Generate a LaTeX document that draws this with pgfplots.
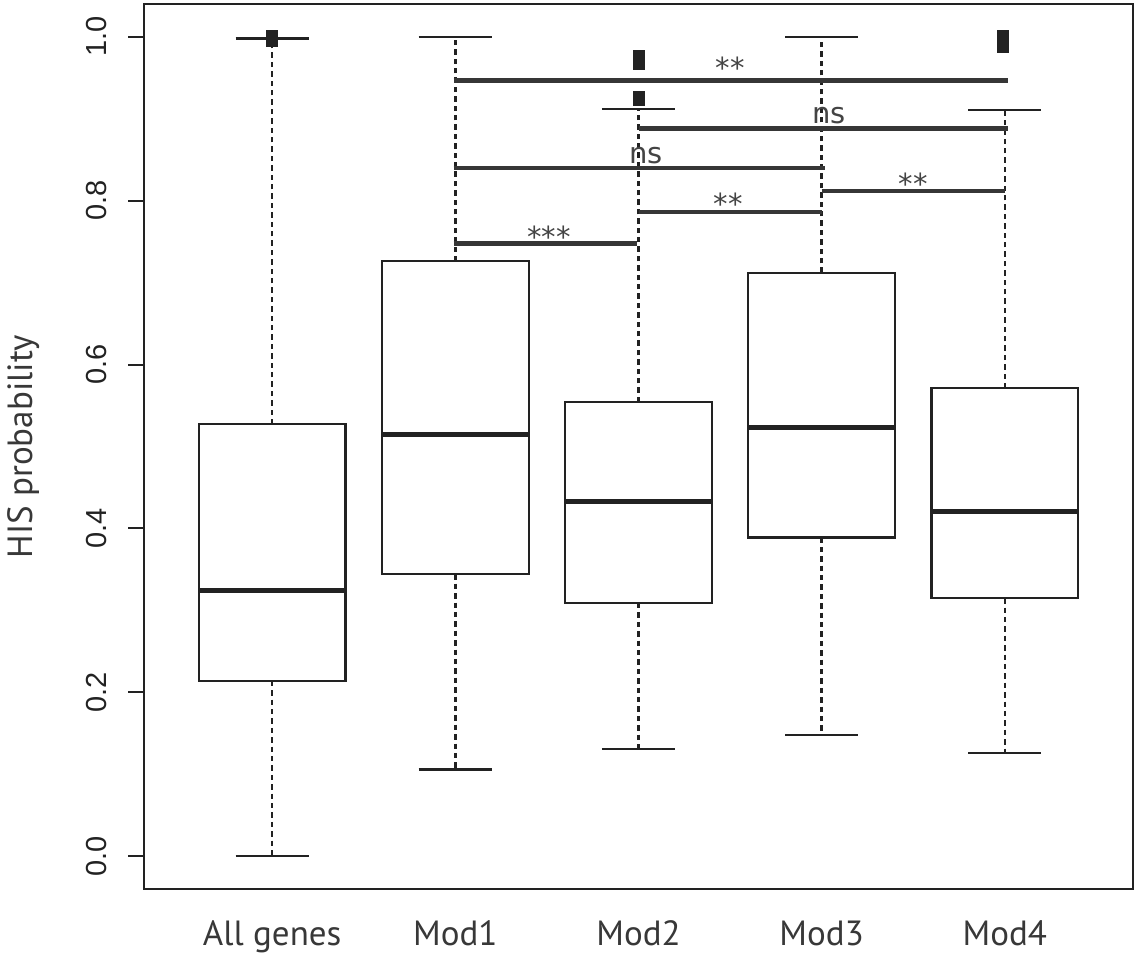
\documentclass[border=0pt]{standalone}
\usepackage{fontspec}
\setmainfont{PT Sans}
\newfontfamily\tickfont{Liberation Sans}
\newfontfamily\annfont{DejaVu Sans}
\usepackage{pgfplots}
\pgfplotsset{compat=1.18}
\usepgfplotslibrary{statistics}
\definecolor{boxc}{HTML}{222222}
\definecolor{sigc}{HTML}{363636}
\definecolor{txtc}{HTML}{444444}
\tikzset{ann/.style={font=\annfont\fontsize{14.5}{16}\selectfont, text=txtc, inner sep=0pt, anchor=north}}
\pgfplotsset{
  boxplot/draw direction=y,
  boxplot/draw/lower whisker/.code={%
    \draw[boxc, line width=1.2pt, dash pattern=on 2.7pt off 2pt]
      (boxplot box cs:\pgfplotsboxplotvalue{lower quartile},0.5) --
      (boxplot box cs:\pgfplotsboxplotvalue{lower whisker},0.5);
    \draw[boxc, line width=1.2pt]
      (boxplot whisker cs:\pgfplotsboxplotvalue{lower whisker},0) --
      (boxplot whisker cs:\pgfplotsboxplotvalue{lower whisker},1);
  },
  boxplot/draw/upper whisker/.code={%
    \draw[boxc, line width=1.2pt, dash pattern=on 2.7pt off 2pt]
      (boxplot box cs:\pgfplotsboxplotvalue{upper quartile},0.5) --
      (boxplot box cs:\pgfplotsboxplotvalue{upper whisker},0.5);
    \draw[boxc, line width=1.2pt]
      (boxplot whisker cs:\pgfplotsboxplotvalue{upper whisker},0) --
      (boxplot whisker cs:\pgfplotsboxplotvalue{upper whisker},1);
  },
  boxplot/every box/.style={line width=1.1pt},
  boxplot/every median/.style={line width=2.7pt},
  sig/.style={sigc, line width=2.3pt},
  outl/.style={only marks, mark=square*, mark size=2.75pt, mark options={draw=boxc, fill=boxc, line width=0.5pt}},
}
\begin{document}
\begin{tikzpicture}
\begin{axis}[
  scale only axis,
  width=494.5pt, height=442.5pt,
  xmin=0.3, xmax=5.7, ymin=-0.04, ymax=1.04,
  axis line style={line width=1pt, color=boxc},
  xtick={1,2,3,4,5},
  xticklabels={All genes, Mod1, Mod2, Mod3, Mod4},
  xtick style={draw=none},
  xticklabel style={font=\fontsize{17.5}{20}\selectfont, text=boxc!90, anchor=base},
  xticklabel shift=20pt,
  ytick={0,0.2,0.4,0.6,0.8,1.0},
  yticklabels={0.0,0.2,0.4,0.6,0.8,1.0},
  ytick pos=left,
  ytick style={line width=1pt, color=boxc},
  tick align=outside, major tick length=8pt,
  yticklabel style={font=\tickfont\fontsize{14.5}{17}\selectfont, text=boxc, rotate=90, anchor=base},
  yticklabel shift=10.5pt,
  every axis y label/.style={at={(axis description cs:-0.1132,0.5)}, rotate=90, anchor=base, font=\fontsize{17.5}{20}\selectfont, text=boxc!90},
  ylabel={HIS probability},
  clip=false,
]
% All genes
\addplot[boxc, boxplot prepared={draw position=1, lower whisker=0.0, lower quartile=0.214, median=0.324, upper quartile=0.527, upper whisker=0.998, box extend=0.8, whisker extend=0.4}] coordinates {};
% Mod1
\addplot[boxc, boxplot prepared={draw position=2, lower whisker=0.106, lower quartile=0.344, median=0.515, upper quartile=0.726, upper whisker=1.0, box extend=0.8, whisker extend=0.4}] coordinates {};
% Mod2
\addplot[boxc, boxplot prepared={draw position=3, lower whisker=0.131, lower quartile=0.309, median=0.433, upper quartile=0.554, upper whisker=0.912, box extend=0.8, whisker extend=0.4}] coordinates {};
% Mod3
\addplot[boxc, boxplot prepared={draw position=4, lower whisker=0.148, lower quartile=0.389, median=0.523, upper quartile=0.712, upper whisker=1.0, box extend=0.8, whisker extend=0.4}] coordinates {};
% Mod4
\addplot[boxc, boxplot prepared={draw position=5, lower whisker=0.126, lower quartile=0.315, median=0.421, upper quartile=0.571, upper whisker=0.911, box extend=0.8, whisker extend=0.4}] coordinates {};
% outliers
\addplot[outl] coordinates {(1,1.001) (1,0.995)};
\addplot[outl] coordinates {(3,0.977) (3,0.967)};
\addplot[outl] coordinates {(3,0.927) (3,0.923)};
\addplot[outl] coordinates {(4.99,1.001) (4.99,0.988)};
% significance bars
\addplot[sig] coordinates {(1.99,0.947) (5.02,0.947)};
\addplot[sig] coordinates {(3.00,0.888) (5.02,0.888)};
\addplot[sig] coordinates {(1.99,0.840) (4.02,0.840)};
\addplot[sig] coordinates {(4.00,0.812) (5.00,0.812)};
\addplot[sig] coordinates {(3.00,0.786) (4.00,0.786)};
\addplot[sig] coordinates {(1.99,0.748) (2.99,0.748)};
\node[ann] at (axis cs:3.50,0.976) {**};
\node[ann] at (axis cs:4.04,0.9145) {ns};
\node[ann] at (axis cs:3.04,0.866) {ns};
\node[ann] at (axis cs:4.50,0.834) {**};
\node[ann] at (axis cs:3.49,0.810) {**};
\node[ann] at (axis cs:2.51,0.770) {***};
\end{axis}
\pgfresetboundingbox
\path[use as bounding box] (current axis.south west) ++(-72pt,-32.5pt) rectangle ([shift={(1pt,2pt)}]current axis.north east);
\end{tikzpicture}
\end{document}
